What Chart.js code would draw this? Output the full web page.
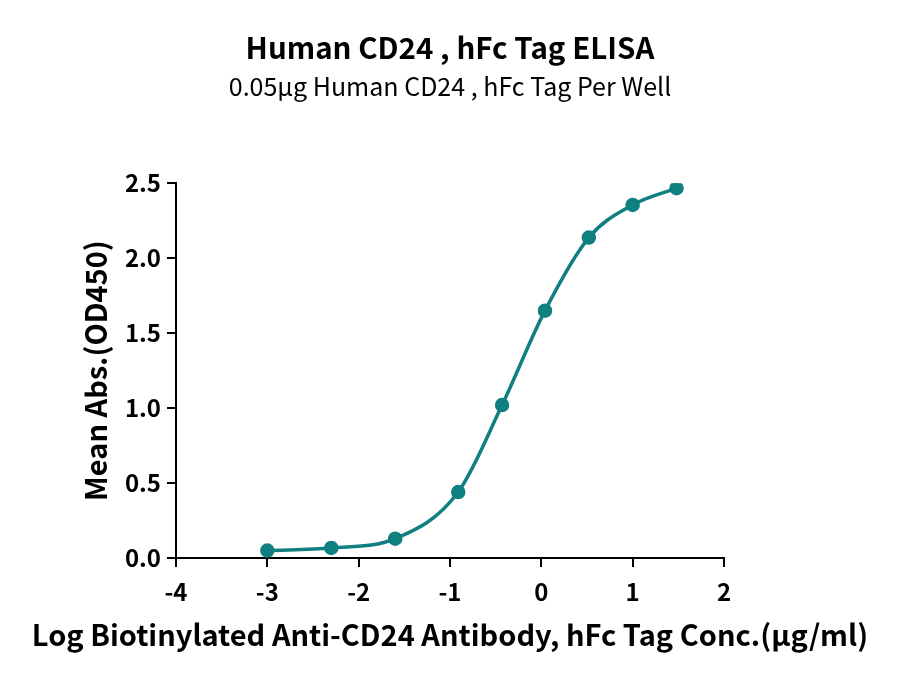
<!DOCTYPE html>
<html>
<head>
<meta charset="utf-8">
<script src="https://cdn.jsdelivr.net/npm/chart.js@4"></script>
<style>
  html, body { margin: 0; padding: 0; background: #fff; }
  #wrap { width: 900px; height: 684px; }
</style>
</head>
<body>
<div id="wrap"><canvas id="elisa"></canvas></div>
<script>
// log concentration (x) and mean OD450 (y)
const logConc = [-3.0, -2.3, -1.6, -0.91, -0.43, 0.04, 0.52, 1.0, 1.48];
const meanAbs = [0.05, 0.067, 0.129, 0.44, 1.02, 1.65, 2.137, 2.355, 2.467];
const xTicks = [-4, -3, -2, -1, 0, 1, 2];
const yTicks = [0, 0.5, 1.0, 1.5, 2.0, 2.5];

const xTitle = 'Log Biotinylated Anti-CD24 Antibody, hFc Tag Conc.(μg/ml)';

const teal = '#0f7f80';
const fontFam = '"Noto Sans CJK SC", "Noto Sans", sans-serif';

const points = logConc.map((x, i) => ({ x: x, y: meanAbs[i] }));

// x axis title drawn by hand: the built-in one gets squeezed to the axis width
const xTitlePlugin = {
  id: 'xTitle',
  afterDraw(chart) {
    const c = chart.ctx;
    const area = chart.chartArea;
    c.save();
    c.fillStyle = '#000';
    c.font = 'bold 29px ' + fontFam;
    c.textAlign = 'center';
    c.textBaseline = 'alphabetic';
    c.fillText(xTitle, (area.left + area.right) / 2, 646);
    c.restore();
  }
};

const ctx = document.getElementById('elisa');

new Chart(ctx, {
  type: 'scatter',
  data: {
    datasets: [{
      label: 'CD24',
      data: points,
      xAxisID: 'x',
      yAxisID: 'y',
      showLine: true,
      cubicInterpolationMode: 'monotone',
      borderColor: teal,
      backgroundColor: teal,
      borderWidth: 3.5,
      pointRadius: 5.5,
      pointHoverRadius: 5.5
    }]
  },
  plugins: [xTitlePlugin],
  options: {
    responsive: true,
    maintainAspectRatio: false,
    animation: false,
    layout: { padding: 0 },
    plugins: {
      legend: { display: false },
      tooltip: { enabled: false },
      title: {
        display: true,
        text: 'Human CD24 , hFc Tag ELISA',
        color: '#000',
        font: { family: fontFam, size: 29.5, weight: 'bold', lineHeight: 1.2 },
        padding: { top: 30.5, bottom: 5.3 }
      },
      subtitle: {
        display: true,
        text: '0.05μg Human CD24 , hFc Tag Per Well',
        color: '#000',
        font: { family: fontFam, size: 25, lineHeight: 1.2 },
        padding: { top: 0, bottom: 82 }
      }
    },
    scales: {
      x: {
        type: 'linear',
        min: -4,
        max: 2,
        afterFit: s => { s.height = 126; },
        afterBuildTicks: s => { s.ticks = xTicks.map(v => ({ value: v })); },
        grid: { display: true, drawOnChartArea: false, drawTicks: true, tickLength: 9, lineWidth: 2, color: '#000' },
        border: { display: true, color: '#000', width: 2 },
        ticks: { color: '#000', padding: 10, font: { family: fontFam, size: 24, weight: 'bold' } }
      },
      y: {
        type: 'linear',
        position: 'left',
        min: 0,
        max: 2.5,
        afterFit: s => { s.width = 176; },
        afterBuildTicks: s => { s.ticks = yTicks.map(v => ({ value: v })); },
        grid: { display: true, drawOnChartArea: false, drawTicks: true, tickLength: 9, lineWidth: 2, color: '#000' },
        border: { display: true, color: '#000', width: 2 },
        ticks: {
          color: '#000', padding: 6,
          font: { family: fontFam, size: 24, weight: 'bold' },
          callback: v => v.toFixed(1)
        },
        title: {
          display: true,
          text: 'Mean Abs.(OD450)',
          color: '#000',
          padding: { top: 79, bottom: 0 },
          font: { family: fontFam, size: 29, weight: 'bold', lineHeight: 1.2 }
        }
      },
      // empty right-hand axis, only to keep the plot where the original has it
      yRight: {
        type: 'linear',
        position: 'right',
        afterFit: s => { s.width = 176; },
        grid: { display: false },
        border: { display: false },
        ticks: { display: false }
      }
    }
  }
});
</script>
</body>
</html>
